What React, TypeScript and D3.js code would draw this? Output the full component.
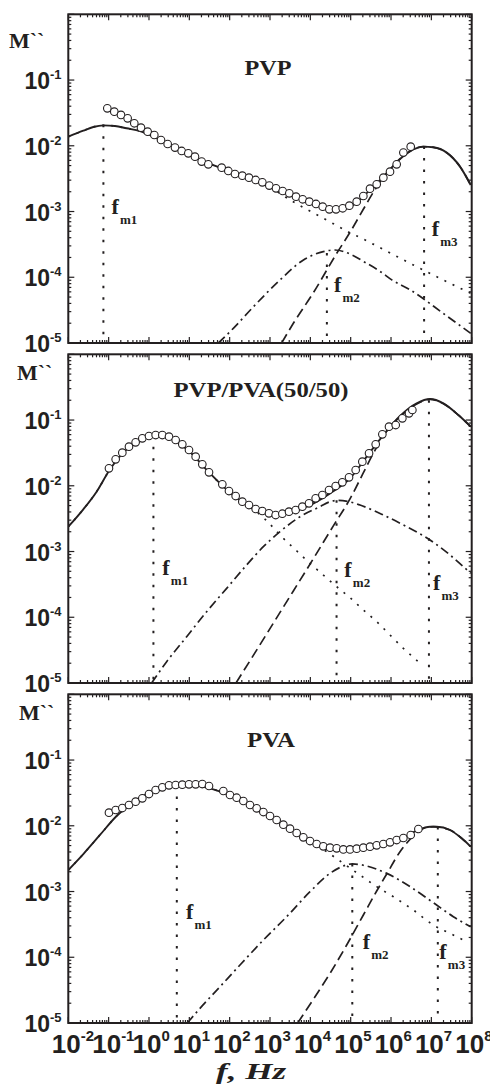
import React from "react";
import * as d3 from "d3";

// ---------- DATA (log10 f [Hz], log10 M'') ----------
const freqDecades = [-2, -1, 0, 1, 2, 3, 4, 5, 6, 7, 8];
const mDecades = [-5, -4, -3, -2, -1, 0];
const yLabelDecades = [-1, -2, -3, -4, -5];
const panelTitles = ["PVP", "PVP/PVA(50/50)", "PVA"];
const fmNames = ["m1", "m2", "m3"];

// PVP
const pvpPoints: [number, number][] = [
  [-1.033, -1.43], [-0.86, -1.481], [-0.694, -1.531], [-0.529, -1.582], [-0.364, -1.658], [-0.198, -1.724],
  [-0.033, -1.785], [0.132, -1.836], [0.298, -1.912], [0.463, -1.973], [0.645, -2.028], [0.81, -2.079],
  [0.975, -2.115], [1.14, -2.165], [1.306, -2.241], [1.471, -2.282], [1.802, -2.333], [1.967, -2.383],
  [2.132, -2.429], [2.314, -2.454], [2.479, -2.485], [2.645, -2.52], [2.81, -2.556], [2.983, -2.606],
  [3.149, -2.647], [3.314, -2.688], [3.479, -2.723], [3.645, -2.774], [3.81, -2.814], [3.975, -2.85],
  [4.14, -2.885], [4.306, -2.926], [4.471, -2.967], [4.636, -2.967], [4.802, -2.951], [4.967, -2.911],
  [5.149, -2.85], [5.314, -2.764], [5.479, -2.652], [5.645, -2.586], [5.81, -2.485], [5.975, -2.394],
  [6.14, -2.282], [6.306, -2.104], [6.488, -2.013],
];
const pvpFit: [number, number][] = [
  [-2.0, -1.861], [-1.628, -1.77], [-1.38, -1.714], [-1.132, -1.689], [-0.843, -1.699], [-0.554, -1.734],
  [-0.223, -1.775], [0.438, -1.962], [1.264, -2.215], [2.091, -2.405], [2.917, -2.59], [3.579, -2.755],
  [4.157, -2.88], [4.57, -2.961], [4.818, -2.966], [5.066, -2.901], [5.397, -2.72], [5.81, -2.47],
  [6.223, -2.2], [6.554, -2.054], [6.802, -2.013], [7.05, -2.023], [7.38, -2.104], [7.711, -2.317], [7.975, -2.596],
];
const pvpC1: [number, number][] = [
  [-2.0, -1.861], [-1.628, -1.77], [-1.38, -1.714], [-1.132, -1.689], [-0.843, -1.699], [-0.554, -1.734],
  [-0.223, -1.775], [0.438, -1.962], [1.264, -2.215], [2.091, -2.405], [2.917, -2.6], [3.54, -2.84],
  [3.86, -2.95], [4.48, -3.155], [4.94, -3.31], [5.35, -3.43], [5.68, -3.535], [6.554, -3.813],
  [7.298, -4.042], [7.975, -4.244],
];
const pvpC2: [number, number][] = [
  [1.719, -5.0], [2.091, -4.777], [2.587, -4.45], [3.25, -4.04], [3.82, -3.74], [4.32, -3.61],
  [4.61, -3.585], [5.03, -3.66], [5.32, -3.76], [5.74, -3.915], [6.02, -4.04], [6.47, -4.19],
  [7.34, -4.57], [7.975, -4.853],
];
const pvpC3: [number, number][] = [
  [3.289, -5.0], [3.579, -4.7], [4.07, -4.24], [4.65, -3.64], [4.98, -3.32], [5.31, -2.97], [5.6, -2.67],
  [5.85, -2.45], [6.223, -2.2], [6.554, -2.054], [6.802, -2.013], [7.05, -2.023], [7.38, -2.104],
  [7.711, -2.317], [7.975, -2.596],
];
const pvpFm: [number, number][] = [[-1.13, -1.68], [4.41, -3.63], [6.82, -2.01]];

// PVP/PVA (50/50)
const mixPoints: [number, number][] = [
  [-0.992, -1.735], [-0.826, -1.598], [-0.661, -1.496], [-0.496, -1.405], [-0.331, -1.339], [-0.165, -1.278],
  [0.0, -1.243], [0.165, -1.228], [0.331, -1.228], [0.496, -1.253], [0.661, -1.304], [0.826, -1.37],
  [0.992, -1.456], [1.157, -1.557], [1.322, -1.674], [1.488, -1.796], [1.818, -1.978], [1.983, -2.08],
  [2.149, -2.156], [2.314, -2.242], [2.479, -2.293], [2.645, -2.353], [2.81, -2.384], [2.975, -2.419],
  [3.14, -2.445], [3.306, -2.425], [3.471, -2.394], [3.636, -2.369], [3.802, -2.318], [3.967, -2.267],
  [4.132, -2.191], [4.298, -2.14], [4.463, -2.064], [4.628, -2.004], [4.793, -1.948], [4.959, -1.872],
  [5.124, -1.76], [5.289, -1.633], [5.455, -1.507], [5.62, -1.37], [5.785, -1.218], [5.95, -1.101],
  [6.116, -1.076], [6.281, -0.974], [6.446, -0.898], [6.529, -0.847],
];
const mixFit: [number, number][] = [
  [-2.0, -2.622], [-1.628, -2.358], [-1.298, -2.09], [-0.992, -1.775], [-0.661, -1.512], [-0.331, -1.339],
  [0.107, -1.228], [0.496, -1.268], [0.992, -1.471], [1.488, -1.796], [1.983, -2.09], [2.479, -2.308],
  [2.917, -2.419], [3.165, -2.435], [3.496, -2.394], [3.992, -2.293], [4.488, -2.115], [4.983, -1.887],
  [5.397, -1.557], [5.81, -1.228], [6.223, -0.939], [6.636, -0.746], [6.967, -0.68], [7.298, -0.746],
  [7.67, -0.924], [7.975, -1.101],
];
const mixC1: [number, number][] = [
  [-2.0, -2.622], [-1.628, -2.358], [-1.298, -2.09], [-0.992, -1.775], [-0.661, -1.512], [-0.331, -1.339],
  [0.107, -1.228], [0.496, -1.268], [0.992, -1.471], [1.488, -1.796], [1.983, -2.09], [2.479, -2.308],
  [2.917, -2.531], [3.248, -2.749], [3.579, -2.942], [3.992, -3.18], [4.322, -3.358], [4.653, -3.535],
  [4.983, -3.702], [5.314, -3.89], [5.645, -4.067], [5.975, -4.27], [6.306, -4.473], [6.678, -4.676],
];
const mixC2: [number, number][] = [
  [0.066, -5.0], [0.438, -4.676], [0.934, -4.296], [1.43, -3.915], [1.926, -3.56], [2.421, -3.205],
  [2.835, -2.927], [3.248, -2.698], [3.744, -2.47], [4.24, -2.318], [4.5, -2.24], [4.7, -2.222],
  [4.95, -2.24], [5.231, -2.293], [5.81, -2.445], [6.388, -2.622], [6.967, -2.825], [7.463, -3.053], [7.975, -3.332],
];
const mixC3: [number, number][] = [
  [2.157, -5.0], [2.587, -4.58], [3.083, -4.09], [3.579, -3.6], [4.074, -3.11], [4.57, -2.61], [4.983, -2.2],
  [5.3, -1.82], [5.55, -1.52], [5.81, -1.24], [6.223, -0.949], [6.636, -0.756], [6.967, -0.685],
  [7.298, -0.751], [7.67, -0.924], [7.975, -1.101],
];
const mixFm: [number, number][] = [[0.11, -1.23], [4.65, -2.22], [6.94, -0.7]];

// PVA
const pvaPoints: [number, number][] = [
  [-0.992, -1.801], [-0.826, -1.76], [-0.661, -1.73], [-0.496, -1.684], [-0.331, -1.633], [-0.165, -1.583],
  [0.0, -1.517], [0.165, -1.456], [0.331, -1.415], [0.496, -1.385], [0.661, -1.38], [0.826, -1.375],
  [0.992, -1.37], [1.157, -1.37], [1.322, -1.365], [1.488, -1.395], [1.843, -1.471], [2.008, -1.532],
  [2.174, -1.573], [2.339, -1.623], [2.504, -1.684], [2.669, -1.735], [2.835, -1.791], [3.0, -1.851],
  [3.165, -1.912], [3.331, -1.983], [3.496, -2.044], [3.661, -2.11], [3.826, -2.176], [3.992, -2.232],
  [4.157, -2.277], [4.322, -2.313], [4.488, -2.333], [4.653, -2.343], [4.818, -2.359], [4.983, -2.359],
  [5.149, -2.348], [5.314, -2.333], [5.479, -2.318], [5.645, -2.298], [5.81, -2.277], [5.975, -2.252],
  [6.14, -2.217], [6.306, -2.186], [6.488, -2.14], [6.678, -2.049],
];
const pvaFit: [number, number][] = [
  [-2.0, -2.673], [-1.628, -2.43], [-1.215, -2.14], [-0.802, -1.851], [-0.471, -1.684], [-0.058, -1.517],
  [0.355, -1.415], [0.686, -1.38], [1.099, -1.385], [1.595, -1.446], [2.091, -1.557], [2.587, -1.709],
  [3.083, -1.887], [3.579, -2.075], [4.074, -2.247], [4.57, -2.333], [4.983, -2.359], [5.397, -2.333],
  [5.81, -2.288], [6.223, -2.217], [6.636, -2.075], [6.967, -2.014], [7.132, -2.014], [7.463, -2.064],
  [7.752, -2.191], [7.975, -2.318],
];
const pvaC1: [number, number][] = [
  [-2.0, -2.673], [-1.628, -2.43], [-1.215, -2.14], [-0.802, -1.851], [-0.471, -1.684], [-0.058, -1.517],
  [0.355, -1.415], [0.686, -1.38], [1.099, -1.385], [1.595, -1.446], [2.091, -1.557], [2.587, -1.709],
  [3.083, -1.887], [3.579, -2.075], [4.074, -2.26], [4.405, -2.394], [4.818, -2.572], [5.231, -2.749],
  [5.645, -2.926], [6.058, -3.079], [6.554, -3.282], [7.05, -3.51], [7.463, -3.636], [7.793, -3.738],
];
const pvaC2: [number, number][] = [
  [0.95, -5.0], [1.264, -4.777], [1.76, -4.448], [2.256, -4.118], [2.835, -3.738], [3.413, -3.383],
  [3.992, -3.003], [4.488, -2.724], [4.818, -2.612], [5.04, -2.58], [5.314, -2.6], [5.893, -2.724],
  [6.471, -2.926], [7.05, -3.17], [7.545, -3.383], [7.975, -3.535],
];
const pvaC3: [number, number][] = [
  [3.686, -5.0], [4.074, -4.64], [4.488, -4.245], [4.901, -3.814], [5.314, -3.357], [5.645, -2.992],
  [5.893, -2.734], [6.223, -2.394], [6.554, -2.156], [6.802, -2.039], [7.05, -2.014], [7.463, -2.064],
  [7.752, -2.191], [7.975, -2.318],
];
const pvaFm: [number, number][] = [[0.69, -1.38], [5.04, -2.58], [7.16, -2.02]];

// ---------- LAYOUT ----------
const X0 = 68.3;
const X1 = 471.7;
const PANEL_TOPS = [14.3, 354.3, 694.3];
const PANEL_H = 328.7;
const INK = "#231f20";
const SANS = "'Liberation Sans', Arial, sans-serif";
const SERIF = "'Liberation Serif', 'Times New Roman', serif";

const panelLayout = [
  { titleX: 268, titleY: 75, titleLen: 47, mX: 9, mY: 48, fmLab: [[111.5, 214], [334, 292], [431.7, 236]] },
  { titleX: 261, titleY: 397, titleLen: 175, mX: 17, mY: 380, fmLab: [[162.3, 575], [344.3, 577], [433, 590]] },
  { titleX: 271, titleY: 747, titleLen: 48, mX: 19, mY: 720, fmLab: [[186, 919], [362.7, 949], [439.3, 959]] },
];

const panelData = [
  { points: pvpPoints, fit: pvpFit, c1: pvpC1, c2: pvpC2, c3: pvpC3, fm: pvpFm },
  { points: mixPoints, fit: mixFit, c1: mixC1, c2: mixC2, c3: mixC3, fm: mixFm },
  { points: pvaPoints, fit: pvaFit, c1: pvaC1, c2: pvaC2, c3: pvaC3, fm: pvaFm },
];

const x = d3.scaleLog().domain([1e-2, 1e8]).range([X0, X1]);

function Panel({ i }: { i: number }) {
  const top = PANEL_TOPS[i];
  const bottom = top + PANEL_H;
  const y = d3.scaleLog().domain([1e-5, 1]).range([bottom, top]);
  const d = panelData[i];
  const L = panelLayout[i];
  const line = d3
    .line<[number, number]>()
    .x((p) => x(Math.pow(10, p[0])))
    .y((p) => y(Math.pow(10, p[1])))
    .curve(d3.curveMonotoneX);
  const clipId = `clip${i}`;

  const xTicks: { v: number; major: boolean }[] = [];
  freqDecades.forEach((e) => {
    xTicks.push({ v: Math.pow(10, e), major: true });
    if (e < 8) for (let k = 2; k <= 9; k++) xTicks.push({ v: k * Math.pow(10, e), major: false });
  });
  const yTicks: { v: number; major: boolean }[] = [];
  mDecades.forEach((e) => {
    yTicks.push({ v: Math.pow(10, e), major: true });
    if (e < 0) for (let k = 2; k <= 9; k++) yTicks.push({ v: k * Math.pow(10, e), major: false });
  });

  const lw = 1.7;
  return (
    <g>
      <defs>
        <clipPath id={clipId}>
          <rect x={X0} y={top} width={X1 - X0} height={PANEL_H} />
        </clipPath>
      </defs>
      <g clipPath={`url(#${clipId})`} fill="none" stroke={INK} strokeWidth={lw}>
        <path d={line(d.c1) || ""} strokeDasharray="2,7" />
        <path d={line(d.c2) || ""} strokeDasharray="9,4,2,4" />
        <path d={line(d.c3) || ""} strokeDasharray="10,5" />
        <path d={line(d.fit) || ""} strokeWidth={1.9} />
        {d.fm.map((p, k) => (
          <line
            key={k}
            x1={x(Math.pow(10, p[0]))}
            x2={x(Math.pow(10, p[0]))}
            y1={y(Math.pow(10, p[1]))}
            y2={bottom}
            strokeDasharray="2.5,9"
            strokeWidth={2}
          />
        ))}
      </g>
      <g fill="#fff" stroke={INK} strokeWidth={1.1}>
        {d.points.map((p, k) => (
          <circle key={k} cx={x(Math.pow(10, p[0]))} cy={y(Math.pow(10, p[1]))} r={3.8} />
        ))}
      </g>
      <g stroke={INK} strokeWidth={1.2}>
        {xTicks.map((t, k) => {
          const xx = x(t.v);
          const len = t.major ? 6 : 3;
          return (
            <g key={k}>
              <line x1={xx} x2={xx} y1={bottom} y2={bottom - len} />
              <line x1={xx} x2={xx} y1={top} y2={top + len} />
            </g>
          );
        })}
        {yTicks.map((t, k) => {
          const yy = y(t.v);
          const len = t.major ? 6 : 3;
          return (
            <g key={k}>
              <line x1={X0} x2={X0 + len} y1={yy} y2={yy} />
              <line x1={X1} x2={X1 - len} y1={yy} y2={yy} />
            </g>
          );
        })}
      </g>
      <rect x={X0} y={top} width={X1 - X0} height={PANEL_H} fill="none" stroke={INK} strokeWidth={2} />
      <g fill={INK} fontFamily={SANS} fontWeight="bold">
        {yLabelDecades.map((e) => {
          const yy = y(Math.pow(10, e));
          return (
            <g key={e}>
              <text x={50} y={yy + 9} fontSize={23} textAnchor="end">10</text>
              <text x={50} y={yy - 1} fontSize={13} textAnchor="start">{`-${Math.abs(e)}`}</text>
            </g>
          );
        })}
      </g>
      <g fill={INK} fontFamily={SERIF} fontWeight="bold">
        <text x={L.mX} y={L.mY} fontSize={22}>{"M``"}</text>
        <text
          x={L.titleX}
          y={L.titleY}
          fontSize={21}
          textAnchor="middle"
          textLength={L.titleLen}
          lengthAdjust="spacingAndGlyphs"
        >
          {panelTitles[i]}
        </text>
        {L.fmLab.map((pos, k) => (
          <g key={k}>
            <text x={pos[0]} y={pos[1]} fontSize={22}>f</text>
            <text x={pos[0] + 8.5} y={pos[1] + 10} fontSize={13}>{fmNames[k]}</text>
          </g>
        ))}
      </g>
    </g>
  );
}

export default function App() {
  const bottom = PANEL_TOPS[2] + PANEL_H;
  return (
    <svg
      width={490}
      height={1087}
      style={{ position: "absolute", left: 0, top: 0, background: "#fff" }}
    >
      <rect x={0} y={0} width={490} height={1087} fill="#fff" />
      {[0, 1, 2].map((i) => (
        <Panel key={i} i={i} />
      ))}
      <g fill={INK} fontFamily={SANS} fontWeight="bold">
        {freqDecades.map((e) => {
          const xx = x(Math.pow(10, e)) - 2;
          return (
            <g key={e}>
              <text x={xx} y={bottom + 30} fontSize={26} textAnchor="middle">10</text>
              <text x={xx + 14.5} y={bottom + 18} fontSize={15} textAnchor="start">{e < 0 ? `-${-e}` : `${e}`}</text>
            </g>
          );
        })}
      </g>
      <text
        x={251}
        y={1079}
        fill={INK}
        fontFamily={SERIF}
        fontWeight="bold"
        fontStyle="italic"
        fontSize={24}
        textAnchor="middle"
        textLength={70}
        lengthAdjust="spacingAndGlyphs"
      >
        f, Hz
      </text>
    </svg>
  );
}
